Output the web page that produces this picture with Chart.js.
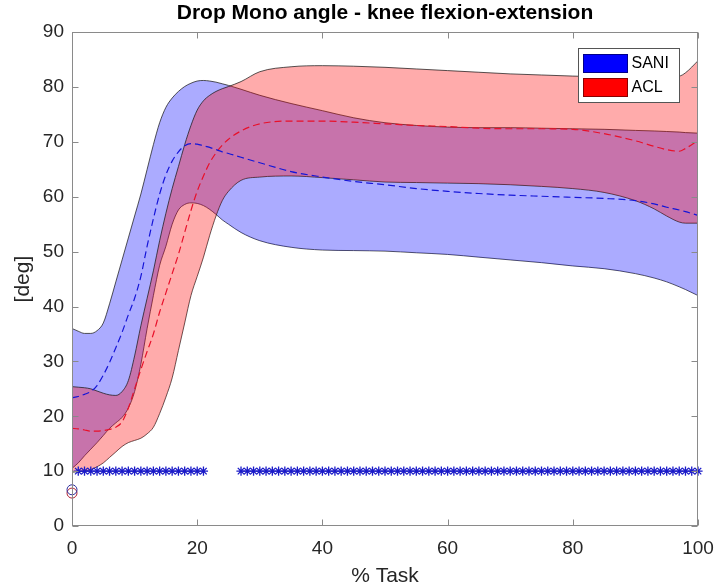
<!DOCTYPE html>
<html><head><meta charset="utf-8">
<script src="https://cdn.jsdelivr.net/npm/chart.js@4.4.0/dist/chart.umd.min.js"></script>
<style>html,body{margin:0;padding:0;background:#fff;}canvas{display:block;}</style>
</head><body>
<canvas id="c" width="715" height="587"></canvas>
<script>
const chartTitle = 'Drop Mono angle - knee flexion-extension';
const xLabel = '% Task';
const yLabel = '[deg]';
const seriesNames = ['SANI', 'ACL'];
const xTicks = [0, 20, 40, 60, 80, 100];
const yTicks = [0, 10, 20, 30, 40, 50, 60, 70, 80, 90];

const taskPct = [0,1,2,3,4,5,6,7,8,9,10,11,12,13,14,15,16,17,18,19,20,21,22,23,24,25,27,30,35,40,45,50,55,60,65,70,75,80,85,90,93,95,97,98,100];

const saniUpper = [36,35.5,35.1,35.1,35.6,37,40.5,44.5,48.5,52.5,56.5,60.5,65,69.5,73.5,76.3,78,79.2,80.1,80.7,81.1,81.2,81.1,80.9,80.6,80.3,79.6,78.5,77,75.7,74.4,73.5,73,72.7,72.6,72.6,72.5,72.4,72.3,72.1,72,71.9,71.8,71.7,71.6];
const saniMean  = [23.4,23.6,24,24.5,25.6,27.5,29.8,32.5,35.3,38.5,41.5,45.5,51,56,60.5,64,66.5,68.2,69.3,69.7,69.6,69.3,69,68.6,68.2,67.9,67.2,66.2,64.6,63.6,62.8,62.2,61.5,61,60.6,60.3,60.1,59.9,59.7,59.3,58.7,58.1,57.6,57.3,56.6];
const saniLower = [10.5,11.5,12.8,14,15.2,16.5,17.8,18.8,19.8,21.5,24.5,29.5,36,42,47.5,51,55,57.6,58.6,58.9,58.8,58.4,57.7,56.8,55.8,55,53.5,52,50.8,50.3,50.2,50.1,49.8,49.5,49,48.5,48,47.4,46.9,46,45.2,44.5,43.6,43.1,42];

const aclUpper = [25.4,25.3,25.2,25,24.6,24.2,23.9,23.8,24.5,26.5,31,36.5,41.5,46.5,52,57,61.5,65.5,69.5,73,75.8,77.5,78.5,79.2,79.7,80.1,81,82.8,83.7,83.9,83.8,83.6,83.3,83,82.7,82.4,82.2,82,81.9,81.9,81.9,81.9,82,82.6,84.8];
const aclMean  = [17.8,17.7,17.5,17.3,17.3,17.4,17.6,18,19,21.5,25,28.5,31.8,35,39,42.5,46,49.5,53.5,57.5,61,63.8,66.2,68,69.4,70.5,72,73.3,73.8,73.8,73.6,73.3,73,72.8,72.5,72.4,72.4,72.3,71.5,70.2,69.2,68.6,68.3,68.8,70.3];
const aclLower = [9.8,9.9,10,10.3,10.8,11.5,12.5,13.5,14.5,15.2,15.6,16,16.8,18,20.5,23.5,27,32,37,42,45.5,49,53,56.5,59.3,61,63,63.6,63.8,63.5,63.1,62.7,62.6,62.5,62.4,62.2,61.9,61.5,60.8,59.3,57.8,56.5,55.4,55.2,55.2];

const sigX = [1,2,3,4,5,6,7,8,9,10,11,12,13,14,15,16,17,18,19,20,21,
  27,28,29,30,31,32,33,34,35,36,37,38,39,40,41,42,43,44,45,46,47,48,49,50,
  51,52,53,54,55,56,57,58,59,60,61,62,63,64,65,66,67,68,69,70,71,72,73,74,75,
  76,77,78,79,80,81,82,83,84,85,86,87,88,89,90,91,92,93,94,95,96,97,98,99,100];
const sigLevel = 10;
const saniCircle = [0, 6.6];
const aclCircle = [0, 6.0];

const pts = (xs, ys) => xs.map((x, i) => ({x, y: ys[i]}));
const FONT = "'Liberation Sans', Arial, Helvetica, sans-serif";

const bandLine = {borderColor: 'rgba(20,20,20,0.9)', borderWidth: 0.8, pointRadius: 0, cubicInterpolationMode: 'monotone'};

const datasets = [
  Object.assign({label: 'aclUpper', data: pts(taskPct, aclUpper), fill: 1, backgroundColor: 'rgba(255,0,0,0.33)', order: 1}, bandLine),
  Object.assign({label: 'aclLower', data: pts(taskPct, aclLower), fill: false, order: 1}, bandLine),
  Object.assign({label: 'saniUpper', data: pts(taskPct, saniUpper), fill: 3, backgroundColor: 'rgba(0,0,255,0.33)', order: 2}, bandLine),
  Object.assign({label: 'saniLower', data: pts(taskPct, saniLower), fill: false, order: 2}, bandLine),
  {label: 'saniMean', data: pts(taskPct, saniMean), borderColor: '#1515d8', borderWidth: 1.2, borderDash: [7, 4], pointRadius: 0, fill: false, cubicInterpolationMode: 'monotone', order: 0},
  {label: 'aclMean', data: pts(taskPct, aclMean), borderColor: '#e8102a', borderWidth: 1.2, borderDash: [7, 4], pointRadius: 0, fill: false, cubicInterpolationMode: 'monotone', order: 0},
  {label: 'sig', data: sigX.map(x => ({x, y: sigLevel})), showLine: false, pointStyle: 'star', pointRadius: 4.6, borderColor: '#1a1ac8', borderWidth: 1.3, backgroundColor: '#1a1ac8', clip: false, order: 0},
  {label: 'saniC', data: [{x: saniCircle[0], y: saniCircle[1]}], showLine: false, pointStyle: 'circle', pointRadius: 5, borderColor: '#2a2a9a', borderWidth: 1, backgroundColor: 'rgba(0,0,0,0)', clip: false, order: 0},
  {label: 'aclC', data: [{x: aclCircle[0], y: aclCircle[1]}], showLine: false, pointStyle: 'circle', pointRadius: 5, borderColor: '#b02030', borderWidth: 1, backgroundColor: 'rgba(0,0,0,0)', clip: false, order: 0}
];

const boxPlugin = {
  id: 'matlabBox',
  afterDatasetsDraw(chart) {
    const {ctx, chartArea: a, scales: {x, y}} = chart;
    ctx.save();
    ctx.strokeStyle = '#8a8a8a';
    ctx.lineWidth = 1;
    const L = Math.round(a.left) + 0.5, R = Math.round(a.right) - 0.5, T = Math.round(a.top) + 0.5, B = Math.round(a.bottom) - 0.5;
    ctx.strokeRect(L, T, R - L, B - T);
    const tl = 6;
    ctx.beginPath();
    x.ticks.forEach(t => {
      const p = Math.round(x.getPixelForValue(t.value)) + 0.5;
      ctx.moveTo(p, B); ctx.lineTo(p, B - tl);
      ctx.moveTo(p, T); ctx.lineTo(p, T + tl);
    });
    y.ticks.forEach(t => {
      const p = Math.round(y.getPixelForValue(t.value)) + 0.5;
      ctx.moveTo(L, p); ctx.lineTo(L + tl, p);
      ctx.moveTo(R, p); ctx.lineTo(R - tl, p);
    });
    ctx.stroke();
    // legend
    const bx = Math.round(a.right) - 120 + 0.5, by = Math.round(a.top) + 16 + 0.5, bw = 101, bh = 54;
    ctx.fillStyle = '#ffffff';
    ctx.fillRect(bx, by, bw, bh);
    ctx.strokeStyle = '#555555';
    ctx.strokeRect(bx, by, bw, bh);
    const cols = [['#0000ff', '#00008a'], ['#ff0000', '#8a0000']];
    ctx.font = '16px ' + FONT;
    ctx.textBaseline = 'middle';
    ctx.textAlign = 'left';
    seriesNames.forEach((n, i) => {
      const py = by + 6 + i * 24;
      ctx.fillStyle = cols[i][0];
      ctx.fillRect(bx + 5, py, 44, 18);
      ctx.strokeStyle = cols[i][1];
      ctx.strokeRect(bx + 5, py, 44, 18);
      ctx.fillStyle = '#000';
      ctx.fillText(n, bx + 53, py + 9.5);
    });
    ctx.restore();
  }
};

new Chart(document.getElementById('c'), {
  type: 'line',
  data: {datasets},
  options: {
    responsive: false,
    animation: false,
    devicePixelRatio: 1,
    layout: {padding: {left: 0, right: 17, top: 0, bottom: 0}},
    plugins: {
      legend: {display: false},
      tooltip: {enabled: false},
      title: {display: true, fullSize: false, text: chartTitle, color: '#000', font: {family: FONT, size: 21, weight: 'bold', lineHeight: 1.2}, padding: {top: 1, bottom: 6}},
      filler: {propagate: false}
    },
    scales: {
      x: {
        type: 'linear', min: 0, max: 100,
        afterBuildTicks: s => { s.ticks = xTicks.map(v => ({value: v})); },
        afterFit: s => { s.height = 61; s.paddingLeft = 0; s.paddingRight = 0; },
        grid: {display: false, drawTicks: false},
        border: {display: false},
        ticks: {color: '#262626', font: {family: FONT, size: 19}, padding: 11, maxRotation: 0},
        title: {display: true, text: xLabel, color: '#262626', font: {family: FONT, size: 21, lineHeight: 1}, padding: {top: 0, bottom: 0}}
      },
      y: {
        type: 'linear', min: 0, max: 90,
        afterBuildTicks: s => { s.ticks = yTicks.map(v => ({value: v})); },
        afterFit: s => { s.width = 72; },
        grid: {display: false, drawTicks: false},
        border: {display: false},
        ticks: {color: '#262626', font: {family: FONT, size: 19}, padding: 8},
        title: {display: true, text: yLabel, color: '#262626', font: {family: FONT, size: 21, lineHeight: 1}, padding: {top: 13, bottom: 0}}
      }
    }
  },
  plugins: [boxPlugin]
});
</script>
</body></html>
